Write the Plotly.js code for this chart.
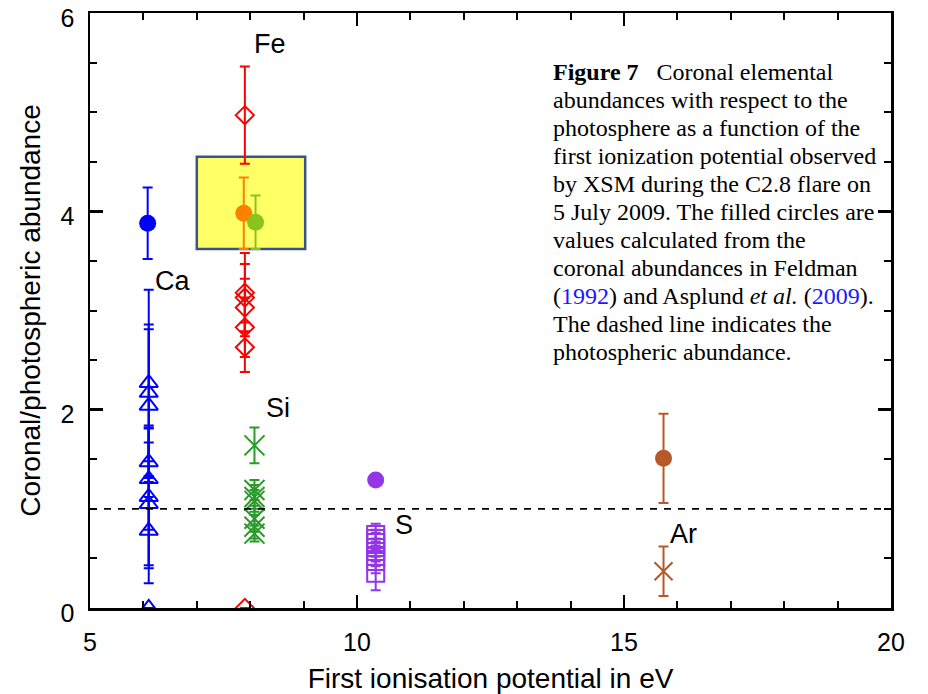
<!DOCTYPE html>
<html>
<head>
<meta charset="utf-8">
<script src="https://cdn.plot.ly/plotly-3.0.1.min.js"></script>
<style>html,body{margin:0;padding:0;background:#fff;}#chart{width:928px;height:694px;}</style>
</head>
<body>
<div id="chart"></div>
<script>
// ---- data ----
// XSM measurements
const caFIP = 6.1;
const caVals = [2.27, 2.17, 2.04, 1.47, 1.30, 1.12, 1.05, 0.78, 0.0];
const caErrs = [0.94, 0.69, 0.77, 0.35, 0.51, 0.72, 0.62, 0.53, 0.0];

const feFIP = 7.9;
const feVals = [4.97, 3.18, 3.13, 3.03, 2.83, 2.63, 0.0];
const feErrs = [0.49, 0.40, 0.34, 0.29, 0.30, 0.25, 0.0];

const siFIP = 8.08;
const siVals = [1.64, 1.19, 1.12, 1.08, 0.90, 0.82, 0.75];
const siErrs = [0.18, 0.10, 0.12, 0.11, 0.13, 0.12, 0.08];

const sFIP = 10.35;
const sVals = [0.74, 0.70, 0.66, 0.61, 0.57, 0.52, 0.47, 0.35];
const sErrs = [0.11, 0.09, 0.10, 0.09, 0.10, 0.10, 0.12, 0.17];

const arFIP = 15.74;
const arVals = [0.37];
const arErrs = [0.25];

// Feldman (1992) / Asplund et al. (2009) values (filled circles)
const refNames = ["Ca", "Fe", "Si", "S", "Ar"];
const refX = [6.08, 7.88, 8.1, 10.35, 15.74];
const refY = [3.88, 3.98, 3.89, 1.29, 1.51];
const refErr = [0.36, 0.36, 0.27, 0.05, 0.45];

// element labels
const labelText = ["Fe", "Ca", "Si", "S", "Ar"];
const labelX = [8.37, 6.54, 8.52, 10.88, 16.12];
const labelY = [5.69, 3.30, 2.02, 0.84, 0.75];

// axis ticks
const xTicks = [5, 10, 15, 20];
const yTicks = [0, 2, 4, 6];

// caption lines
const caption = [
  "<b>Figure 7</b>\u00a0\u00a0 Coronal elemental",
  "abundances with respect to the",
  "photosphere as a function of the",
  "first ionization potential observed",
  "by XSM during the C2.8 flare on",
  "5 July 2009. The filled circles are",
  "values calculated from the",
  "coronal abundances in Feldman",
  "(<span style=\"color:#1a1aff\">1992</span>) and Asplund <i>et al.</i> (<span style=\"color:#1a1aff\">2009</span>).",
  "The dashed line indicates the",
  "photospheric abundance."
];

// highlight box around Fe/Si reference values
const boxX = [7.0, 9.03];
const boxY = [3.62, 4.55];

// ---- styling ----
const colors = {
  Ca: "#0000ff", Fe: "#ff0000", Si: "#2a9a2a", S: "#9236e8", Ar: "#b5582a"
};
const refColors = ["#0000ff", "#ff8000", "#8cc21c", "#9236e8", "#b5582a"];

function series(name, fip, vals, errs, symbol, size, color) {
  return {
    type: "scatter", mode: "markers", name: name,
    x: vals.map(() => fip), y: vals,
    error_y: {type: "data", array: errs, visible: true, color: color, thickness: 2, width: 5},
    marker: {symbol: symbol, size: size, color: color, line: {color: color, width: 2}},
    showlegend: false
  };
}

const traces = [
  series("Ca", caFIP, caVals, caErrs, "triangle-up-open", 16, colors.Ca),
  series("Fe", feFIP, feVals, feErrs, "diamond-open", 14, colors.Fe),
  series("Si", siFIP, siVals, siErrs, "x-thin-open", 20, colors.Si),
  series("S", sFIP, sVals, sErrs, "square-open", 17, colors.S),
  series("Ar", arFIP, arVals, arErrs, "x-thin-open", 18, colors.Ar)
];

refX.forEach((x, i) => {
  traces.push({
    type: "scatter", mode: "markers", name: refNames[i] + " (Feldman)",
    x: [x], y: [refY[i]],
    error_y: {type: "data", array: [refErr[i]], visible: true, color: refColors[i], thickness: 2, width: 5},
    marker: {symbol: "circle", size: 17, color: refColors[i]},
    showlegend: false
  });
});

// photospheric level dashed line
traces.push({
  type: "scatter", mode: "lines", x: [5, 20], y: [1, 1],
  line: {color: "#000", width: 1.8, dash: "7px,7px"}, showlegend: false, hoverinfo: "skip"
});

const annotations = labelText.map((t, i) => ({
  x: labelX[i], y: labelY[i], xref: "x", yref: "y", text: t, showarrow: false,
  font: {family: "Liberation Sans, Arial, sans-serif", size: 27, color: "#000"},
  xanchor: "center", yanchor: "middle"
}));

// caption lines: left edge 551px, first line centre 72px, spacing 28px
const plotL = 90, plotT = 13, plotB = 86, plotW = 801, plotH = 694 - 13 - 86;
caption.forEach((line, i) => {
  const py = 72 + i * 28;
  annotations.push({
    xref: "paper", yref: "paper",
    x: (551 - plotL) / plotW, y: 1 - (py - plotT) / plotH,
    xanchor: "left", yanchor: "middle", align: "left",
    text: line, showarrow: false,
    font: {family: "Liberation Serif, Times New Roman, serif", size: 24, color: "#000"}
  });
});

const axisCommon = {
  showline: true, linecolor: "#000", linewidth: 2.5, mirror: "allticks",
  ticks: "inside", ticklen: 13, tickwidth: 2.5, tickcolor: "#000",
  showgrid: false, zeroline: false, automargin: false,
  ticklabeloverflow: "allow",
  tickfont: {family: "Liberation Sans, Arial, sans-serif", size: 25, color: "#000"}
};

const layout = {
  width: 928, height: 694,
  margin: {l: plotL, r: 37, t: plotT, b: plotB},
  paper_bgcolor: "#fff", plot_bgcolor: "#fff",
  showlegend: false,
  xaxis: Object.assign({}, axisCommon, {
    range: [5, 20], tickmode: "array", tickvals: xTicks, ticktext: xTicks.map(String),
    minor: {ticks: "inside", dtick: 1, tick0: 5, ticklen: 7, tickwidth: 2, tickcolor: "#000"},
    ticklabelstandoff: 10,
    title: {text: "First ionisation potential in eV", standoff: 14,
            font: {family: "Liberation Sans, Arial, sans-serif", size: 28, color: "#000"}}
  }),
  yaxis: Object.assign({}, axisCommon, {
    range: [0, 6], tickmode: "array", tickvals: yTicks, ticktext: yTicks.map(String),
    minor: {ticks: "inside", dtick: 0.5, tick0: 0, ticklen: 7, tickwidth: 2, tickcolor: "#000"},
    ticklabelstandoff: 8, ticklabelshift: 5,
    title: {text: "Coronal/photospheric abundance", standoff: 12,
            font: {family: "Liberation Sans, Arial, sans-serif", size: 28, color: "#000"}}
  }),
  shapes: [{
    type: "rect", xref: "x", yref: "y", layer: "below",
    x0: boxX[0], x1: boxX[1], y0: boxY[0], y1: boxY[1],
    fillcolor: "#ffff66", line: {color: "#3a5488", width: 2.5}
  }],
  annotations: annotations
};

Plotly.newPlot("chart", traces, layout, {displayModeBar: false, staticPlot: true});
</script>
</body>
</html>
